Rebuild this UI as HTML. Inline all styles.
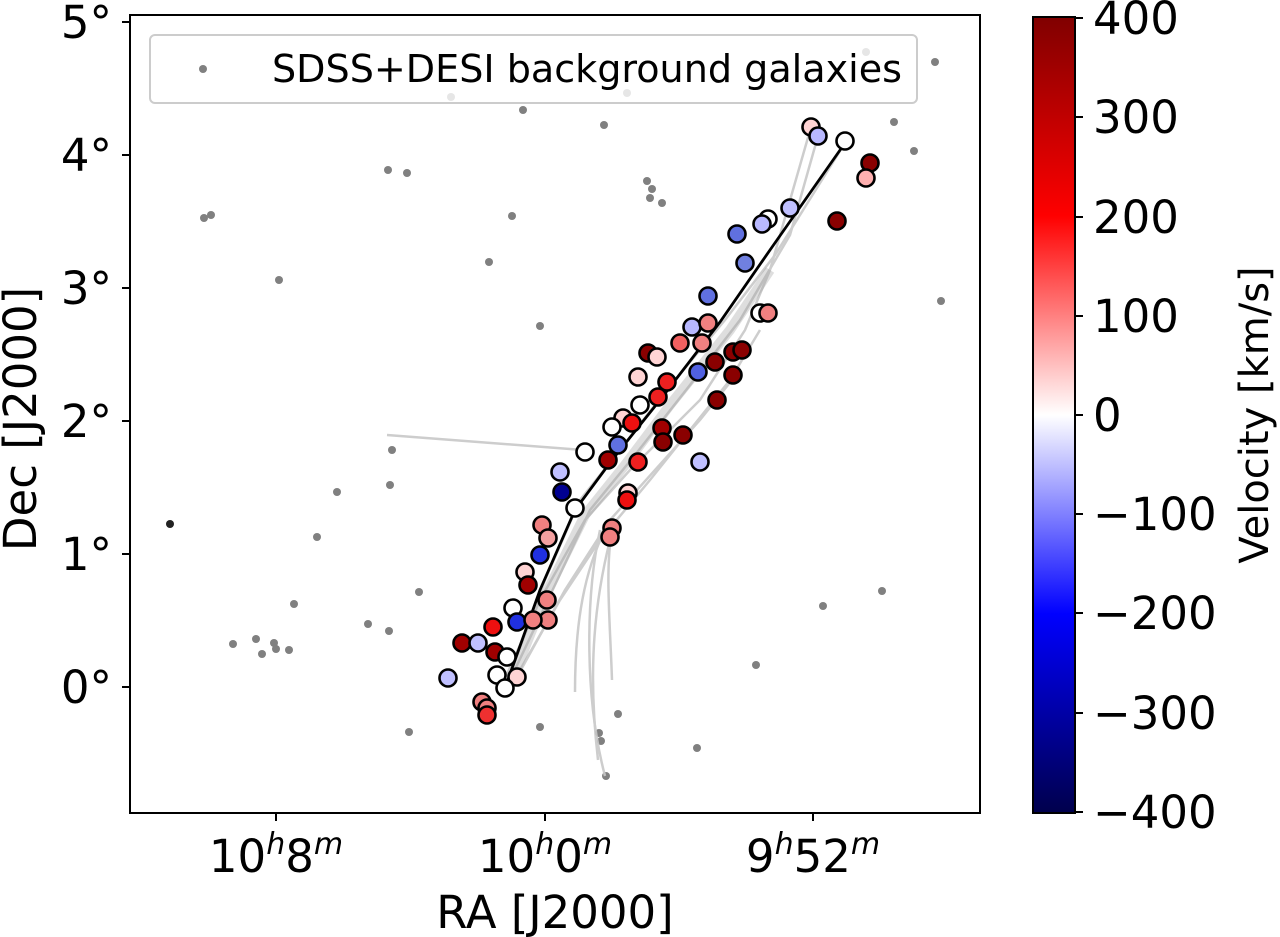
<!DOCTYPE html>
<html><head><meta charset="utf-8"><style>html,body{margin:0;padding:0;background:#fff}svg{display:block}text{font-family:"DejaVu Sans","Liberation Sans",sans-serif;fill:#000}</style></head>
<body>
<svg width="1280" height="937" viewBox="0 0 1280 937" xmlns="http://www.w3.org/2000/svg">
<defs>
<linearGradient id="cb" x1="0" y1="1" x2="0" y2="0">
<stop offset="0" stop-color="#00004c"/>
<stop offset="0.25" stop-color="#0000ff"/>
<stop offset="0.5" stop-color="#ffffff"/>
<stop offset="0.75" stop-color="#ff0000"/>
<stop offset="1" stop-color="#800000"/>
</linearGradient>
<clipPath id="ax"><rect x="130" y="15" width="850" height="798"/></clipPath>
</defs>
<g clip-path="url(#ax)">
<g fill="#808080">
<circle cx="451" cy="97" r="4"/><circle cx="523" cy="110" r="4"/><circle cx="604" cy="125" r="4"/><circle cx="627" cy="93" r="4"/><circle cx="866" cy="52" r="4"/><circle cx="935" cy="62" r="4"/><circle cx="894" cy="122" r="4"/><circle cx="914" cy="151" r="4"/><circle cx="647" cy="181" r="4"/><circle cx="652" cy="189" r="4"/><circle cx="650" cy="198" r="4"/><circle cx="662" cy="203" r="4"/><circle cx="388" cy="170" r="4"/><circle cx="407" cy="173" r="4"/><circle cx="204" cy="218" r="4"/><circle cx="211" cy="215" r="4"/><circle cx="512" cy="216" r="4"/><circle cx="489" cy="262" r="4"/><circle cx="279" cy="280" r="4"/><circle cx="540" cy="326" r="4"/><circle cx="941" cy="301" r="4"/><circle cx="392" cy="450" r="4"/><circle cx="390" cy="485" r="4"/><circle cx="337" cy="492" r="4"/><circle cx="317" cy="537" r="4"/><circle cx="294" cy="604" r="4"/><circle cx="368" cy="624" r="4"/><circle cx="389" cy="631" r="4"/><circle cx="419" cy="592" r="4"/><circle cx="233" cy="644" r="4"/><circle cx="256" cy="639" r="4"/><circle cx="262" cy="654" r="4"/><circle cx="274" cy="643" r="4"/><circle cx="276" cy="649" r="4"/><circle cx="289" cy="650" r="4"/><circle cx="882" cy="591" r="4"/><circle cx="823" cy="606" r="4"/><circle cx="756" cy="665" r="4"/><circle cx="618" cy="714" r="4"/><circle cx="599" cy="733" r="4"/><circle cx="601" cy="741" r="4"/><circle cx="697" cy="748" r="4"/><circle cx="409" cy="732" r="4"/><circle cx="606" cy="776" r="4"/><circle cx="540" cy="727" r="4"/>
</g>
<circle cx="170" cy="524" r="4" fill="#222"/>
<g fill="none" stroke="#c8c8c8" stroke-width="2.5" opacity="0.9">
<polyline points="387,435 583,450"/>
<path d="M575,692 C575,620 585,570 605,530"/>
<path d="M605,776 C585,700 585,600 600,530"/>
<path d="M598,760 C590,690 590,620 610,540"/>
<path d="M612,680 C610,620 605,570 612,530"/>
<path d="M505,688 L545,580 L580,500 L620,450 L665,392 L725,320 L775,255 L845,143"/>
<path d="M510,680 L555,585 L590,510 L635,455 L690,385 L740,320 L790,235 L818,136"/>
<path d="M500,690 L540,600 L585,520 L630,470 L700,400 L745,330 L770,270 L811,127"/>
<path d="M520,670 L560,600 L600,540 L650,480 L730,380 L760,330"/>
<path d="M517,677 L565,590 L610,520 L700,420 L740,370"/>
</g>
<g fill="none" stroke="#a0a0a0" stroke-width="10" opacity="0.35">
<path d="M512,680 L548,590 L585,515 L625,465 L670,405 L730,330 L770,270"/>
</g>
<polyline points="505,688 540,590 575,510 612,460 660,400 720,322 770,250 845,143" fill="none" stroke="#000" stroke-width="2.8"/>
<g stroke="#000" stroke-width="2.6">
<circle cx="811" cy="127" r="8.5" fill="#ffd4d4"/><circle cx="818" cy="136" r="8.5" fill="#b8b8ff"/><circle cx="845" cy="141" r="8.5" fill="#fff"/><circle cx="870" cy="163" r="8.5" fill="#8a0000"/><circle cx="866" cy="178" r="8.5" fill="#ffb0b0"/><circle cx="837" cy="221" r="8.5" fill="#8a0000"/><circle cx="790" cy="208" r="8.5" fill="#c0c0ff"/><circle cx="768" cy="219" r="8.5" fill="#fff"/><circle cx="762" cy="224" r="8.5" fill="#b8b8ff"/><circle cx="737" cy="234" r="8.5" fill="#6070e0"/><circle cx="745" cy="263" r="8.5" fill="#7080e0"/><circle cx="708" cy="296" r="8.5" fill="#6070e0"/><circle cx="760" cy="313" r="8.5" fill="#fff"/><circle cx="768" cy="313" r="8.5" fill="#f08080"/>
<circle cx="692" cy="327" r="8.5" fill="#b8b8ff"/><circle cx="708" cy="323" r="8.5" fill="#f08080"/><circle cx="680" cy="343" r="8.5" fill="#f06060"/><circle cx="702" cy="343" r="8.5" fill="#f08080"/>
<circle cx="648" cy="353" r="8.5" fill="#8a0000"/><circle cx="657" cy="357" r="8.5" fill="#ffd4d4"/><circle cx="638" cy="377" r="8.5" fill="#ffd4d4"/><circle cx="667" cy="382" r="8.5" fill="#ee2020"/>
<circle cx="733" cy="352" r="8.5" fill="#8a0000"/><circle cx="742" cy="350" r="8.5" fill="#8a0000"/><circle cx="715" cy="362" r="8.5" fill="#8a0000"/><circle cx="698" cy="372" r="8.5" fill="#5060e0"/><circle cx="733" cy="375" r="8.5" fill="#8a0000"/><circle cx="717" cy="400" r="8.5" fill="#8a0000"/>
<circle cx="658" cy="397" r="8.5" fill="#ee2020"/><circle cx="640" cy="405" r="8.5" fill="#fff"/><circle cx="623" cy="418" r="8.5" fill="#ffd4d4"/><circle cx="612" cy="427" r="8.5" fill="#fff"/><circle cx="632" cy="423" r="8.5" fill="#ee1010"/><circle cx="618" cy="445" r="8.5" fill="#6070e0"/>
<circle cx="585" cy="452" r="8.5" fill="#fff"/><circle cx="608" cy="460" r="8.5" fill="#a00000"/><circle cx="638" cy="462" r="8.5" fill="#ee2020"/><circle cx="662" cy="428" r="8.5" fill="#a00000"/><circle cx="663" cy="442" r="8.5" fill="#8a0000"/><circle cx="683" cy="435" r="8.5" fill="#8a0000"/><circle cx="700" cy="462" r="8.5" fill="#c0c0ff"/>
<circle cx="560" cy="472" r="8.5" fill="#c0c0ff"/><circle cx="562" cy="492" r="8.5" fill="#000090"/><circle cx="575" cy="508" r="8.5" fill="#fff"/><circle cx="628" cy="493" r="8.5" fill="#ffd4d4"/><circle cx="627" cy="500" r="8.5" fill="#ee1010"/>
<circle cx="612" cy="528" r="8.5" fill="#f08080"/><circle cx="610" cy="537" r="8.5" fill="#f08080"/><circle cx="542" cy="525" r="8.5" fill="#f08080"/><circle cx="548" cy="538" r="8.5" fill="#f4a0a0"/><circle cx="540" cy="555" r="8.5" fill="#2030e0"/>
<circle cx="525" cy="572" r="8.5" fill="#ffd4d4"/><circle cx="528" cy="585" r="8.5" fill="#a00000"/><circle cx="547" cy="600" r="8.5" fill="#f08080"/><circle cx="548" cy="620" r="8.5" fill="#f08080"/><circle cx="513" cy="608" r="8.5" fill="#fff"/><circle cx="517" cy="622" r="8.5" fill="#2030e0"/><circle cx="533" cy="620" r="8.5" fill="#f08080"/>
<circle cx="493" cy="627" r="8.5" fill="#ee1010"/><circle cx="462" cy="643" r="8.5" fill="#a00000"/><circle cx="478" cy="643" r="8.5" fill="#c0c0ff"/><circle cx="495" cy="652" r="8.5" fill="#a00000"/><circle cx="507" cy="657" r="8.5" fill="#fff"/><circle cx="448" cy="678" r="8.5" fill="#c0c0ff"/><circle cx="497" cy="675" r="8.5" fill="#fff"/><circle cx="517" cy="677" r="8.5" fill="#ffd4d4"/><circle cx="505" cy="688" r="8.5" fill="#fff"/><circle cx="482" cy="702" r="8.5" fill="#f08080"/><circle cx="487" cy="708" r="8.5" fill="#f08080"/><circle cx="487" cy="715" r="8.5" fill="#ee3030"/>
</g>
</g>
<rect x="130" y="15" width="850" height="798" fill="none" stroke="#000" stroke-width="2"/>
<rect x="150" y="35" width="767" height="68" rx="5" fill="#fff" fill-opacity="0.8" stroke="#ccc" stroke-width="2"/>
<circle cx="203" cy="69" r="4" fill="#808080"/>
<text x="272" y="82" font-size="38" textLength="630" lengthAdjust="spacingAndGlyphs">SDSS+DESI background galaxies</text>
<g stroke="#000" stroke-width="2">
<line x1="122" y1="22" x2="130" y2="22"/><line x1="122" y1="155" x2="130" y2="155"/><line x1="122" y1="288" x2="130" y2="288"/><line x1="122" y1="421" x2="130" y2="421"/><line x1="122" y1="554" x2="130" y2="554"/><line x1="122" y1="687" x2="130" y2="687"/>
<line x1="276" y1="813" x2="276" y2="821"/><line x1="545" y1="813" x2="545" y2="821"/><line x1="813" y1="813" x2="813" y2="821"/>
</g>
<g font-size="45" text-anchor="end">
<text x="112" y="38">5°</text><text x="112" y="171">4°</text><text x="112" y="304">3°</text><text x="112" y="437">2°</text><text x="112" y="570">1°</text><text x="112" y="703">0°</text>
</g>
<g font-size="45" text-anchor="middle">
<text x="276" y="872">10<tspan font-style="italic" font-size="30" dy="-18">h</tspan><tspan dy="18">8</tspan><tspan font-style="italic" font-size="30" dy="-18">m</tspan></text>
<text x="545" y="872">10<tspan font-style="italic" font-size="30" dy="-18">h</tspan><tspan dy="18">0</tspan><tspan font-style="italic" font-size="30" dy="-18">m</tspan></text>
<text x="813" y="872">9<tspan font-style="italic" font-size="30" dy="-18">h</tspan><tspan dy="18">52</tspan><tspan font-style="italic" font-size="30" dy="-18">m</tspan></text>
<text x="555" y="928">RA [J2000]</text>
<text transform="translate(36,419) rotate(-90)">Dec [J2000]</text>
</g>
<rect x="1033" y="17" width="42" height="796" fill="url(#cb)" stroke="#000" stroke-width="2"/>
<g stroke="#000" stroke-width="2">
<line x1="1075" y1="18" x2="1083" y2="18"/><line x1="1075" y1="117" x2="1083" y2="117"/><line x1="1075" y1="217" x2="1083" y2="217"/><line x1="1075" y1="316" x2="1083" y2="316"/><line x1="1075" y1="415" x2="1083" y2="415"/><line x1="1075" y1="514" x2="1083" y2="514"/><line x1="1075" y1="613" x2="1083" y2="613"/><line x1="1075" y1="713" x2="1083" y2="713"/><line x1="1075" y1="812" x2="1083" y2="812"/>
</g>
<g font-size="45">
<text x="1093" y="34">400</text><text x="1093" y="133">300</text><text x="1093" y="233">200</text><text x="1093" y="332">100</text><text x="1093" y="431">0</text><text x="1093" y="530">−100</text><text x="1093" y="629">−200</text><text x="1093" y="729">−300</text><text x="1093" y="828">−400</text>
<text transform="translate(1268,415) rotate(-90)" text-anchor="middle" font-size="40">Velocity [km/s]</text>
</g>
</svg>
</body></html>
